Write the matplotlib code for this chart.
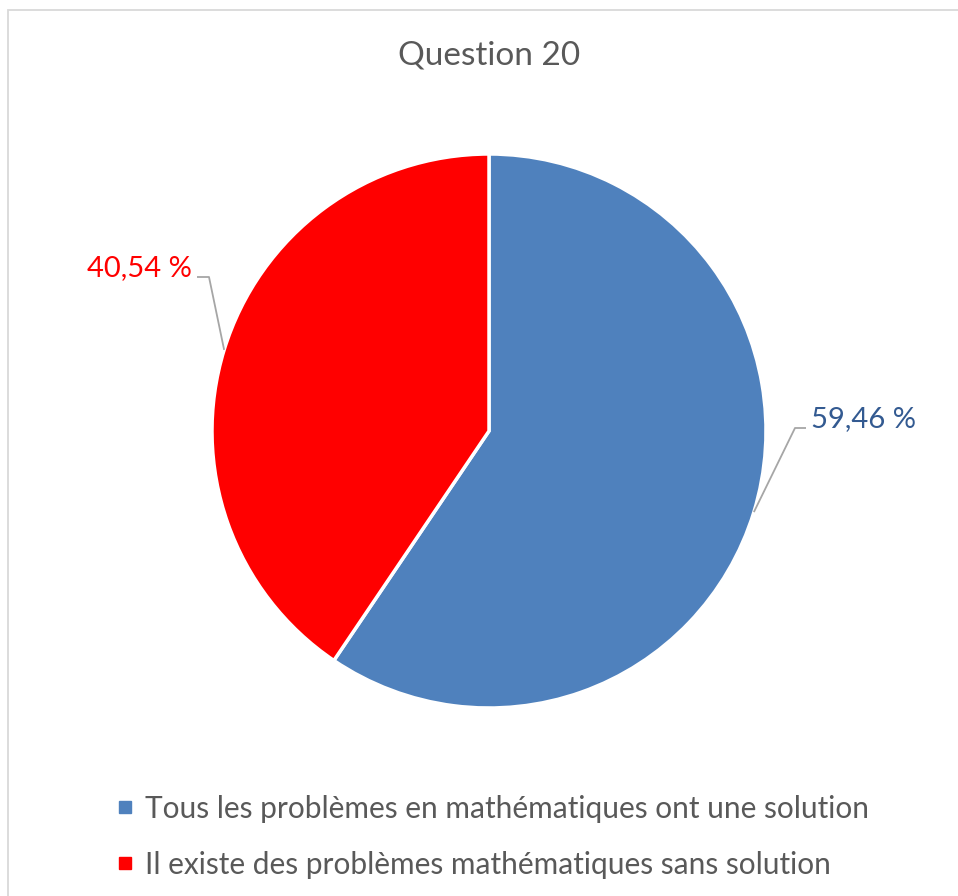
import numpy as np
import matplotlib.pyplot as plt
from matplotlib.patches import Rectangle
from matplotlib.lines import Line2D

# Data
categories = ["Tous les problèmes en mathématiques ont une solution",
              "Il existe des problèmes mathématiques sans solution"]
shares = [59.46, 40.54]
colors = ["#4F81BD", "#FF0000"]
label_colors = ["#335A91", "#FF0000"]
title = "Question 20"

plt.rcParams['font.family'] = ['Lato', 'DejaVu Sans']
grey = "#595959"

W, H = 958, 896
fig = plt.figure(figsize=(W / 100, H / 100), dpi=100)
ax = fig.add_axes([0, 0, 1, 1])

# pie in pixel-like coordinates (y up)
cx, cy, r = 489, H - 431, 277
wedges, _ = ax.pie(shares, colors=colors, startangle=90, counterclock=False,
                   center=(cx, cy), radius=r,
                   wedgeprops=dict(edgecolor="white", linewidth=2.5))
ax.set_xlim(0, W)
ax.set_ylim(0, H)
ax.set_aspect("equal")
ax.axis("off")

# frame around chart area
ax.add_patch(Rectangle((8.5, -20), W + 20, H - 9.5 + 20, fill=False,
                       edgecolor="#D9D9D9", linewidth=1.3, clip_on=False))

ax.text(cx, H - 55, title, ha="center", va="center", fontsize=24, color=grey)

# data labels with leader lines
label_pos = [(811, H - 419), (192, H - 268)]
for w, val, lc, (tx, ty) in zip(wedges, shares, label_colors, label_pos):
    mid = np.deg2rad((w.theta1 + w.theta2) / 2)
    ex, ey = cx + r * np.cos(mid), cy + r * np.sin(mid)
    right = np.cos(mid) > 0
    ly = ty - 9
    if right:
        elbow, end = tx - 16, tx - 5
        ha = "left"
    else:
        elbow, end = tx + 17, tx + 5
        ha = "right"
    ax.plot([ex, elbow, end], [ey, ly, ly], color="#A6A6A6", lw=1.3,
            solid_capstyle="butt")
    ax.text(tx, ty, f"{val:.2f} %".replace(".", ","), ha=ha, va="center",
            fontsize=21, color=lc)

# legend
handles = [Line2D([], [], marker="s", linestyle="none", markersize=8,
                  markerfacecolor=c, markeredgecolor=c) for c in colors]
leg = ax.legend(handles, categories, loc="upper left",
                bbox_to_anchor=(103 / W, 1 - 780 / H), frameon=False,
                fontsize=21.5, handlelength=0.5, handletextpad=0.4,
                labelspacing=0.93, borderpad=0)
for t in leg.get_texts():
    t.set_color(grey)

fig.savefig("out.png", dpi=100, facecolor="white")
